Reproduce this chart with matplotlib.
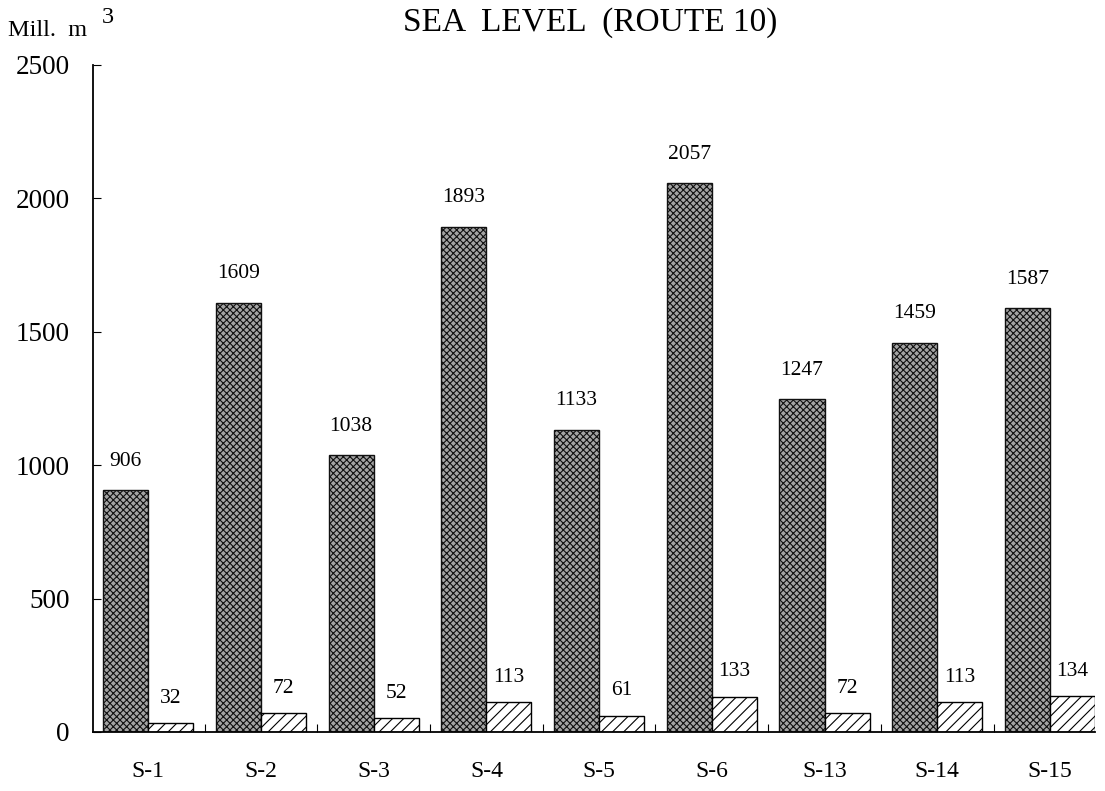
import numpy as np
import matplotlib.pyplot as plt

plt.rcParams['font.family'] = ['Liberation Serif', 'DejaVu Serif']
plt.rcParams['hatch.linewidth'] = 0.8

sites = ["S-1", "S-2", "S-3", "S-4", "S-5", "S-6", "S-13", "S-14", "S-15"]
big = [906, 1609, 1038, 1893, 1133, 2057, 1247, 1459, 1587]
small = [32, 72, 52, 113, 61, 133, 72, 113, 134]

x = np.arange(len(sites))
w = 0.4

fig = plt.figure(figsize=(11.05, 7.91), dpi=100)
ax = fig.add_axes([0.0842, 0.0746, 0.9068, 0.8434])

# stippled bars and hatched bars
ax.bar(x - w / 2, big, w, facecolor="#a4a4a4", edgecolor="#111111",
       hatch="xxxxx", linewidth=1.0)
ax.bar(x + w / 2, small, w, facecolor="white", edgecolor="black",
       hatch="///", linewidth=1.0)

for i in range(len(sites)):
    ax.annotate(str(big[i]), (x[i] - w / 2, big[i]), xytext=(0, 14),
                textcoords="offset points", ha="center", va="bottom", fontsize=15.5)
    ax.annotate(str(small[i]), (x[i] + w / 2, small[i]), xytext=(0, 11),
                textcoords="offset points", ha="center", va="bottom", fontsize=15.5)

ax.set_xlim(-0.49, 8.4)
ax.set_ylim(0, 2500)
ax.set_yticks(np.arange(0, 2501, 500))
ax.tick_params(axis="y", direction="in", length=6, labelsize=19.5, pad=17)

ax.set_xticks(x[:-1] + 0.5)
ax.set_xticklabels([])
ax.set_xticks(x, minor=True)
ax.set_xticklabels(sites, minor=True)
ax.tick_params(axis="x", which="major", direction="in", length=6)
ax.tick_params(axis="x", which="minor", length=0, labelsize=17, pad=21)

for s in ["top", "right"]:
    ax.spines[s].set_visible(False)
ax.spines["left"].set_linewidth(1.3)
ax.spines["bottom"].set_linewidth(1.3)

fig.text(0.534, 0.971, "SEA  LEVEL  (ROUTE 10)", ha="center", va="center", fontsize=24)
fig.text(0.007, 0.961, "Mill.  m", ha="left", va="center", fontsize=17.5)
fig.text(0.092, 0.978, "3", ha="left", va="center", fontsize=17.5)

fig.savefig("out.png", dpi=100)
